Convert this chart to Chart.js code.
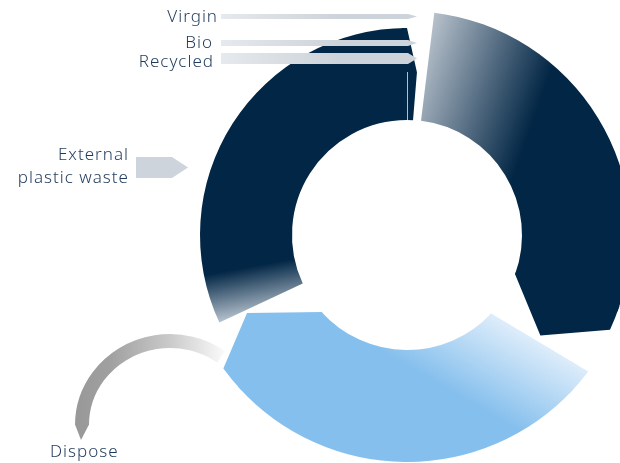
<!DOCTYPE html>
<html>
<head>
<meta charset="utf-8">
<script src="https://cdn.jsdelivr.net/npm/chart.js@4.4.1/dist/chart.umd.min.js"></script>
<style>
  html, body { margin: 0; padding: 0; background: #fff; overflow: hidden; }
  #wrap { position: relative; width: 620px; height: 463px; overflow: hidden; }
  #wrap canvas { position: absolute; left: 0; top: 0; }
  .lbl {
    position: absolute;
    font-family: 'Noto Sans', sans-serif;
    font-weight: 300;
    font-size: 17px;
    letter-spacing: 1px;
    line-height: 23px;
    color: #1f3a5a;
    white-space: nowrap;
    text-align: right;
  }
</style>
</head>
<body>
<div id="wrap">
  <canvas id="loop" width="680" height="463"></canvas>
</div>
<script>
  // ring pieces, clockwise from the start angle (degrees); gaps stay empty
  const loopStart = 245;
  const arcSpans = [115, 7, 103, 23, 95, 17];
  const arcRoles = ['ring', 'gap', 'ring', 'gap', 'ring', 'gap'];

  const inputLabels = ['Virgin', 'Bio', 'Recycled'];
  const sideLabel = ['External', 'plastic waste'];
  const outputLabel = 'Dispose';

  const NAVY = '#022645';
  const BLUE = '#85bfed';
  const outerRadii = [207, 0, 224, 0, 227, 0];

  // arrow points on the ring ends (degrees relative to the arc edge)
  const arcTips = {
    0: { edge: 'end', inner: 3, outer: 0, tip: 3.5, tipR: 163 },
    2: { edge: 'end', inner: 0, outer: 5, tip: 17, tipR: 167 },
    4: { edge: 'end', inner: 0, outer: 6, tip: 16, tipR: 178 },
  };
  const arcLeads = {
    4: { edge: 'start', inner: 0, outer: -6 },
  };

  function centre(chart) {
    const a = chart.chartArea;
    if (!a) return null;
    return { x: (a.left + a.right) / 2, y: (a.top + a.bottom) / 2 };
  }

  function linear(chart, x0, y0, x1, y1, stops) {
    const c = centre(chart);
    if (!c) return stops[stops.length - 1][1];
    const g = chart.ctx.createLinearGradient(c.x + x0, c.y + y0, c.x + x1, c.y + y1);
    stops.forEach(([o, col]) => g.addColorStop(o, col));
    return g;
  }

  function ringFill(chart, i) {
    if (arcRoles[i] === 'gap') return 'rgba(0,0,0,0)';
    if (i === 0) return linear(chart, -202, 40, -193, 89, [[0, NAVY], [1, '#b9c5d0']]);
    if (i === 2) return linear(chart, 7, -174, 132, -130, [[0, '#bcc5cf'], [1, NAVY]]);
    return linear(chart, 131, 108, 88, 182, [[0, '#dcecfa'], [1, BLUE]]);
  }

  // extra shape on an arc edge; starts 1.5 deg inside the arc so no seam shows
  function extend(ctx, arc, o) {
    const base = o.edge === 'end' ? arc.endAngle : arc.startAngle;
    const back = o.edge === 'end' ? -1.5 : 1.5;
    const rad = (d) => base + d * Math.PI / 180;
    const at = (r, d) => [arc.x + r * Math.cos(rad(d)), arc.y + r * Math.sin(rad(d))];
    ctx.beginPath();
    ctx.moveTo(...at(arc.innerRadius, back));
    const innerTo = o.inner || 0;
    ctx.arc(arc.x, arc.y, arc.innerRadius, rad(back), rad(innerTo), innerTo < back);
    if (o.tip != null) ctx.lineTo(...at(o.tipR, o.tip));
    ctx.lineTo(...at(arc.outerRadius, o.outer));
    ctx.arc(arc.x, arc.y, arc.outerRadius, rad(o.outer), rad(back), back < o.outer);
    ctx.closePath();
    ctx.fill();
  }

  function pentagon(ctx, x0, xb, xt, y0, y1) {
    ctx.beginPath();
    ctx.moveTo(x0, y0);
    ctx.lineTo(xb, y0);
    ctx.lineTo(xt, (y0 + y1) / 2);
    ctx.lineTo(xb, y1);
    ctx.lineTo(x0, y1);
    ctx.closePath();
    ctx.fill();
  }

  const loopDecor = {
    id: 'loopDecor',
    afterDatasetsUpdate(chart) {
      chart.getDatasetMeta(0).data.forEach((arc, i) => {
        if (outerRadii[i]) arc.outerRadius = outerRadii[i];
      });
    },
    beforeDatasetsDraw(chart) {
      // curved "Dispose" arrow leaving the blue arc
      const ctx = chart.ctx;
      const cx = 170, cy = 425, rx = 88, ry = 84;
      const g = ctx.createLinearGradient(230, 0, 80, 0);
      g.addColorStop(0, '#ffffff');
      g.addColorStop(0.4, '#cacaca');
      g.addColorStop(0.8, '#a0a0a0');
      g.addColorStop(1, '#999999');
      ctx.save();
      ctx.strokeStyle = g;
      ctx.lineWidth = 14;
      ctx.beginPath();
      ctx.ellipse(cx, cy, rx, ry, 0, -0.95, -Math.PI, true);
      ctx.stroke();
      ctx.fillStyle = '#999999';
      ctx.beginPath();
      ctx.moveTo(cx - rx - 7, cy - 0.5);
      ctx.lineTo(cx - rx + 7, cy - 0.5);
      ctx.lineTo(cx - rx - 1, cy + 15);
      ctx.closePath();
      ctx.fill();
      ctx.restore();
    },
    afterDatasetsDraw(chart) {
      const ctx = chart.ctx;
      const arcs = chart.getDatasetMeta(0).data;
      ctx.save();
      Object.keys(arcTips).forEach((k) => {
        ctx.fillStyle = ringFill(chart, +k);
        extend(ctx, arcs[k], arcTips[k]);
      });
      Object.keys(arcLeads).forEach((k) => {
        ctx.fillStyle = ringFill(chart, +k);
        extend(ctx, arcs[k], arcLeads[k]);
      });

      // seam where the inputs meet the navy arc
      const a = arcs[0];
      ctx.strokeStyle = 'rgba(200,208,216,0.9)';
      ctx.lineWidth = 1;
      ctx.beginPath();
      ctx.moveTo(a.x + 0.5, a.y - 163);
      ctx.lineTo(a.x + 0.5, a.y - a.innerRadius);
      ctx.stroke();

      // input arrows
      const bars = [[14, 19], [40, 46], [53, 64]];
      const g = ctx.createLinearGradient(221, 0, 340, 0);
      g.addColorStop(0, '#e6e9ed');
      g.addColorStop(1, '#cdd3da');
      ctx.fillStyle = g;
      bars.forEach(([y0, y1]) => pentagon(ctx, 221, 408, 417, y0, y1));

      ctx.fillStyle = '#cdd4db';
      pentagon(ctx, 136, 172, 188, 157, 178);
      ctx.restore();
    },
  };

  new Chart(document.getElementById('loop'), {
    type: 'doughnut',
    data: {
      labels: arcRoles,
      datasets: [{
        data: arcSpans,
        backgroundColor: (c) => ringFill(c.chart, c.dataIndex),
        borderWidth: 0,
        hoverOffset: 0,
      }],
    },
    options: {
      responsive: false,
      animation: false,
      rotation: loopStart,
      radius: 227,
      cutout: 115,
      layout: { padding: { left: 180, right: 46, top: 8, bottom: 1 } },
      events: [],
      plugins: {
        legend: { display: false },
        tooltip: { enabled: false },
      },
    },
    plugins: [loopDecor],
  });

  // labels
  const wrap = document.getElementById('wrap');
  function addLabel(text, style) {
    const el = document.createElement('div');
    el.className = 'lbl';
    el.innerHTML = text;
    Object.assign(el.style, style);
    wrap.appendChild(el);
  }
  const inputTops = [4, 30, 49];
  const inputRights = [218, 213, 214];
  inputLabels.forEach((t, i) => addLabel(t, { top: inputTops[i] + 'px', right: (620 - inputRights[i]) + 'px' }));
  addLabel(sideLabel.join('<br>'), { top: '142px', right: (620 - 129) + 'px' });
  addLabel(outputLabel, { top: '439px', left: '50px', textAlign: 'left' });
</script>
</body>
</html>
